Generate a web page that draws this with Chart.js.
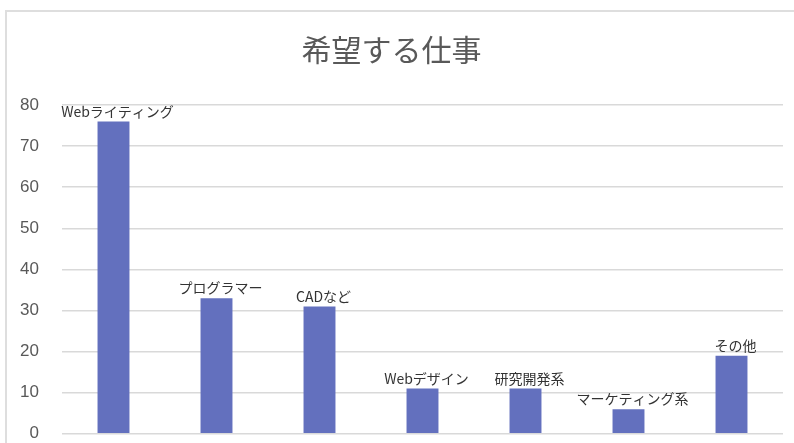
<!DOCTYPE html>
<html lang="ja">
<head>
<meta charset="UTF-8">
<title>希望する仕事</title>
<script src="https://cdn.jsdelivr.net/npm/chart.js"></script>
<style>
    body {
        margin: 0;
        padding: 0;
        background: white;
        overflow: hidden;
    }
    .frame {
        position: absolute;
        left: 5px;
        top: 10px;
        width: 900px;
        height: 600px;
        border: 2px solid #dedede;
    }
    .wrap {
        position: absolute;
        left: 0;
        top: 0;
        width: 794px;
        height: 443px;
        overflow: hidden;
    }
</style>
</head>
<body>
<div class="frame"></div>
<div class="wrap">
    <canvas id="myChart" width="794" height="467"></canvas>
</div>
<script>
    const categories = ['Webライティング', 'プログラマー', 'CADなど', 'Webデザイン', '研究開発系', 'マーケティング系', 'その他'];
    const counts = [76, 33, 31, 11, 11, 6, 19];
    const yTicks = [0, 10, 20, 30, 40, 50, 60, 70, 80];

    // draw the category name above each bar
    const barLabels = {
        id: 'barLabels',
        afterDatasetsDraw(chart) {
            const ctx = chart.ctx;
            const meta = chart.getDatasetMeta(0);
            ctx.save();
            ctx.font = '14px "Noto Sans CJK JP", sans-serif';
            ctx.fillStyle = '#333333';
            ctx.textAlign = 'center';
            ctx.textBaseline = 'bottom';
            meta.data.forEach((bar, i) => {
                ctx.fillText(categories[i], bar.x + 4, bar.y - 3);
            });
            ctx.restore();
        }
    };

    const ctx = document.getElementById('myChart').getContext('2d');
    const myChart = new Chart(ctx, {
        type: 'bar',
        data: {
            labels: categories,
            datasets: [{
                data: counts,
                backgroundColor: '#6370be',
                categoryPercentage: 1,
                barPercentage: 0.31
            }]
        },
        options: {
            responsive: false,
            animation: false,
            layout: {
                padding: { left: 0, right: 11, top: 0, bottom: 0 }
            },
            plugins: {
                legend: { display: false },
                tooltip: { enabled: false },
                title: {
                    display: true,
                    text: '希望する仕事',
                    color: '#595959',
                    font: { family: '"Noto Sans CJK JP", sans-serif', size: 30, weight: 'normal' },
                    padding: { top: 32, bottom: 37 }
                }
            },
            scales: {
                x: {
                    display: false
                },
                y: {
                    min: 0,
                    max: 80,
                    afterBuildTicks: (scale) => {
                        scale.ticks = yTicks.map(v => ({ value: v }));
                    },
                    afterFit: (scale) => {
                        scale.width = 62;
                    },
                    border: { display: false },
                    grid: {
                        color: '#d9d9d9',
                        lineWidth: 1.5,
                        drawTicks: false
                    },
                    ticks: {
                        color: '#595959',
                        padding: 23,
                        font: { family: '"Liberation Sans", Arial, sans-serif', size: 17 }
                    }
                }
            }
        },
        plugins: [barLabels]
    });
</script>
</body>
</html>
